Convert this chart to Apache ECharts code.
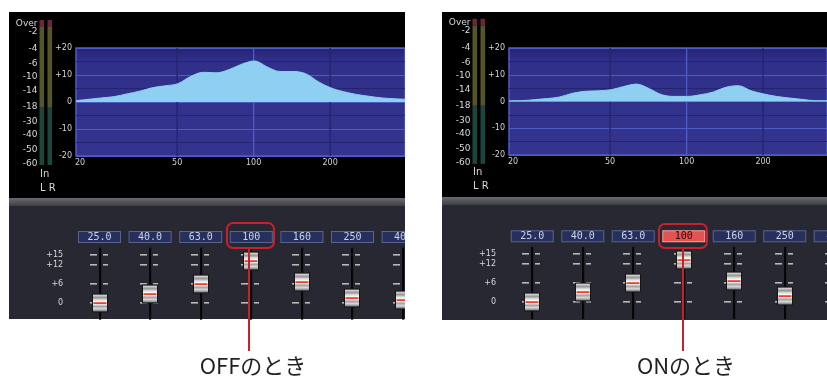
<!DOCTYPE html>
<html><head><meta charset="utf-8">
<script src="https://cdn.jsdelivr.net/npm/echarts@6/dist/echarts.min.js"></script>
<style>html,body{margin:0;padding:0;background:#fff}#c{width:827px;height:376px}</style>
</head><body><div id="c"></div>
<script>
// ---------- DATA ----------
const freqs = [20, 22.4, 25.2, 28.3, 31.7, 35.6, 40, 44.9, 50.4, 56.6, 63.5, 71.3, 80, 89.8, 100.8, 113, 127, 142.5, 160, 179.6, 201.6, 226, 254, 285, 320, 359, 403];
const offLevels = [0.5, 1.0, 1.5, 2.0, 3.0, 4.0, 5.3, 6.0, 6.8, 9.5, 11.0, 10.8, 12.0, 14.0, 15.2, 13.0, 11.3, 11.3, 10.5, 7.5, 5.2, 3.8, 2.8, 2.1, 1.5, 1.2, 1.0];
const onLevels  = [0.3, 0.3, 0.7, 1.1, 1.7, 3.1, 3.8, 4.0, 4.4, 5.6, 6.5, 4.8, 2.5, 1.9, 1.9, 2.5, 3.5, 5.3, 5.9, 4.0, 2.8, 1.9, 1.3, 0.8, 0.3, 0.3, 0.2];
const gridFreqs = [20, 50, 100, 200];
const bandLabels = ['25.0', '40.0', '63.0', '100', '160', '250', '400'];
const offFaders = [0, 2.8, 5.9, 13.1, 6.6, 1.6, 1.0];
const onFaders  = [0, 3.1, 6.1, 13.2, 6.7, 2.1, 1.0];
const faderTicks = [15, 12, 6, 0];
const meterLabels = ['Over', '-2', '-4', '-6', '-10', '-14', '-18', '-30', '-40', '-50', '-60'];
const captions = ['OFFのとき', 'ONのとき'];
const highlightBand = '100';

// ---------- LAYOUT / STYLE ----------
const meterLabelY = [24, 32, 49, 64, 77, 91, 107, 122, 135, 150, 164];
const PANELS = [
  {ox: 0, dy: 0, black: [9, 12, 396, 186], fader: [9, 198, 396, 121],
   spec: {left: 76, top: 48, width: 329, height: 108, max: 394},
   fad: {left: 74.2, top: 255, width: 354.2, height: 67.2},
   hl: [227, 223, 47, 25], line: [249, 248, 351], cap: [253, 366]},
  {ox: 433, dy: -1.2, black: [442, 12, 385, 185], fader: [442, 197, 385, 123],
   spec: {left: 509, top: 48, width: 318, height: 107, max: 357},
   fad: {left: 507, top: 254.3, width: 353.5, height: 67.2},
   hl: [659, 224, 48, 24], line: [683, 248, 351], cap: [686, 366]}
];
const FILL = '#8fd0f2';
const LIGHT = '#4e5cc6';
const DARK = '#22256c';

const chart = echarts.init(document.getElementById('c'), null, {renderer: 'canvas'});

function plotBg() {
  return new echarts.graphic.LinearGradient(0, 0, 0, 1, [
    {offset: 0, color: '#25226f'}, {offset: 0.12, color: '#30308a'},
    {offset: 1, color: '#34348f'}]);
}

function faderRender(slotTop, slotBot) {
  return function (params, api) {
    const idx = api.value(0), val = api.value(1);
    const cx = Math.round(api.coord([idx, 0])[0]);
    const yTop = api.coord([idx, slotTop])[1];
    const yBot = api.coord([idx, slotBot])[1];
    const ky = Math.round(api.coord([idx, val])[1]);
    const ch = [];
    ch.push({type: 'rect', shape: {x: cx - 1, y: yTop, width: 2.2, height: yBot - yTop}, style: {fill: '#060606'}});
    faderTicks.forEach(t => {
      const y = Math.round(api.coord([idx, t])[1]);
      ch.push({type: 'rect', shape: {x: cx - 10, y: y - 1, width: 7, height: 1.6}, style: {fill: '#b8b8b8'}});
      ch.push({type: 'rect', shape: {x: cx + 3, y: y - 1, width: 5, height: 1.6}, style: {fill: '#b8b8b8'}});
    });
    ch.push({type: 'rect', shape: {x: cx - 7.5, y: ky - 9, width: 15, height: 18},
      style: {stroke: '#151515', lineWidth: 1,
        fill: new echarts.graphic.LinearGradient(0, 0, 0, 1, [
          {offset: 0, color: '#505050'}, {offset: 0.08, color: '#d6d6d6'},
          {offset: 0.22, color: '#959595'}, {offset: 0.33, color: '#dcdcdc'},
          {offset: 0.46, color: '#ffffff'}, {offset: 0.56, color: '#eeeeee'},
          {offset: 0.68, color: '#a4a4a4'}, {offset: 0.8, color: '#d8d8d8'},
          {offset: 0.92, color: '#858585'}, {offset: 1, color: '#3c3c3c'}])}});
    ch.push({type: 'rect', shape: {x: cx - 6.5, y: ky - 0.8, width: 13, height: 1.8}, style: {fill: '#e8442c'}});
    return {type: 'group', children: ch};
  };
}

function gridLineRender(params, api) {
  const f = api.value(0);
  const x = api.coord([f, 0])[0];
  const yT = api.coord([f, 20])[1];
  const yB = api.coord([f, -20])[1];
  const ch = [];
  if (f !== gridFreqs[0]) {
    ch.push({type: 'line', shape: {x1: x, y1: yT, x2: x, y2: yB},
      style: {stroke: f === 100 ? LIGHT : DARK, lineWidth: 1.3}});
  }
  ch.push({type: 'text', x: f === gridFreqs[0] ? x - 1 : x, y: yB + 3,
    style: {text: String(f), fill: '#d4d4d4', font: '8px "DejaVu Sans"',
      textAlign: f === gridFreqs[0] ? 'left' : 'center', textVerticalAlign: 'top'}});
  return {type: 'group', children: ch};
}

const grids = [], xAxes = [], yAxes = [], series = [], graphics = [];

PANELS.forEach((p, pi) => {
  const levels = pi === 0 ? offLevels : onLevels;
  const faders = pi === 0 ? offFaders : onFaders;
  grids.push({left: p.spec.left, top: p.spec.top, width: p.spec.width, height: p.spec.height,
    outerBoundsMode: 'none', containLabel: false,
    show: true, backgroundColor: plotBg(), borderColor: LIGHT, borderWidth: 1.5});
  xAxes.push({type: 'log', gridIndex: 2 * pi, min: 20, max: p.spec.max, logBase: 10,
    axisLine: {show: false}, axisTick: {show: false}, axisLabel: {show: false}, splitLine: {show: false}});
  yAxes.push({type: 'value', gridIndex: 2 * pi, min: -20, max: 20, interval: 5,
    axisLine: {show: false}, axisTick: {show: false},
    axisLabel: {color: '#d4d4d4', fontSize: 8, fontFamily: 'DejaVu Sans', margin: 4,
      formatter: v => (v % 10 !== 0 ? '' : (v > 0 ? '+' + v : String(v)))},
    splitLine: {show: true, lineStyle: {color: [LIGHT, DARK], width: 1.2}}});
  grids.push({left: p.fad.left, top: p.fad.top, width: p.fad.width, height: p.fad.height,
    outerBoundsMode: 'none', containLabel: false});
  xAxes.push({type: 'category', gridIndex: 2 * pi + 1, data: bandLabels, position: 'top', boundaryGap: true,
    axisLine: {show: false}, axisTick: {show: false}, splitLine: {show: false},
    axisLabel: {interval: 0, margin: 13, hideOverlap: false,
      formatter: v => (pi === 1 && v === highlightBand) ? '{hi|' + v + '}' : '{n|' + v + '}',
      rich: {
        n: {backgroundColor: '#27305c', borderColor: '#56648f', borderWidth: 1, width: 41, height: 10,
          lineHeight: 10, align: 'center', color: '#c8d4ee', fontFamily: 'DejaVu Sans Mono', fontSize: 10},
        hi: {backgroundColor: '#e45252', borderColor: '#f6a0a0', borderWidth: 1, width: 41, height: 10,
          lineHeight: 10, align: 'center', color: '#2a0606', fontFamily: 'DejaVu Sans Mono', fontSize: 10}
      }}});
  yAxes.push({type: 'value', gridIndex: 2 * pi + 1, min: -6, max: 15,
    axisLine: {show: false}, axisTick: {show: false}, splitLine: {show: false},
    axisLabel: {customValues: faderTicks, margin: 11, color: '#d8d8d8', fontSize: 8, fontFamily: 'DejaVu Sans',
      formatter: v => (v > 0 ? '+' + v : String(v))}});

  series.push({type: 'custom', xAxisIndex: 2 * pi, yAxisIndex: 2 * pi, clip: false, silent: true, z: 1,
    renderItem: gridLineRender, encode: {x: 0}, data: gridFreqs.map(f => [f, 0])});
  series.push({type: 'line', xAxisIndex: 2 * pi, yAxisIndex: 2 * pi, smooth: 0.35, symbol: 'none',
    data: freqs.map((f, i) => [f, levels[i]]), lineStyle: {width: 1, color: FILL},
    areaStyle: {color: FILL, opacity: 1}, z: 3, silent: true});
  series.push({type: 'custom', xAxisIndex: 2 * pi + 1, yAxisIndex: 2 * pi + 1, clip: false, silent: true,
    renderItem: faderRender(17.3, -5.2), encode: {x: 0, y: 1},
    data: bandLabels.map((b, i) => [i, faders[i]]), z: 3});

  graphics.push({type: 'rect', z: -10, shape: {x: p.black[0], y: p.black[1], width: p.black[2], height: p.black[3]}, style: {fill: '#000'}});
  graphics.push({type: 'rect', z: -10, shape: {x: p.fader[0], y: p.fader[1], width: p.fader[2], height: p.fader[3]}, style: {fill: '#282832'}});
  graphics.push({type: 'rect', z: -9, shape: {x: p.fader[0], y: p.fader[1], width: p.fader[2], height: 8},
    style: {fill: new echarts.graphic.LinearGradient(0, 0, 0, 1, [{offset: 0, color: '#6a6a70'}, {offset: 1, color: '#3e3e46'}])}});
  const mx = [39.5 + p.ox, 47.5 + p.ox];
  const my = v => v + p.dy;
  mx.forEach(x => {
    graphics.push({type: 'rect', z: -8, shape: {x, y: my(20), width: 4.6, height: 7}, style: {fill: '#6a2838'}});
    graphics.push({type: 'rect', z: -8, shape: {x, y: my(27), width: 4.6, height: 80}, style: {fill: '#55552a'}});
    graphics.push({type: 'rect', z: -8, shape: {x, y: my(107), width: 4.6, height: 58}, style: {fill: '#1f463c'}});
  });
  meterLabels.forEach((t, i) => {
    graphics.push({type: 'text', z: -7, x: 37.5 + p.ox, y: my(meterLabelY[i]),
      style: {text: t, fill: '#d8d8d8', font: '9px "DejaVu Sans"', textAlign: 'right', textVerticalAlign: 'middle'}});
  });
  graphics.push({type: 'text', z: -7, x: 40 + p.ox, y: my(174), style: {text: 'In', fill: '#d8d8d8', font: '10px "DejaVu Sans"', textAlign: 'left', textVerticalAlign: 'middle'}});
  graphics.push({type: 'text', z: -7, x: 40 + p.ox, y: my(188), style: {text: 'L R', fill: '#d8d8d8', font: '10px "DejaVu Sans"', textAlign: 'left', textVerticalAlign: 'middle'}});
  graphics.push({type: 'rect', z: 120, shape: {x: p.hl[0], y: p.hl[1], width: p.hl[2], height: p.hl[3], r: 6},
    style: {fill: 'none', stroke: '#c8202c', lineWidth: 2}});
  graphics.push({type: 'line', z: 120, shape: {x1: p.line[0], y1: p.line[1], x2: p.line[0], y2: p.line[2]},
    style: {stroke: '#c8202c', lineWidth: 2}});
  graphics.push({type: 'text', z: 120, x: p.cap[0], y: p.cap[1],
    style: {text: captions[pi], fill: '#231f20', font: '22px "Noto Sans CJK JP"', textAlign: 'center', textVerticalAlign: 'middle'}});
});
graphics.push({type: 'rect', z: 110, shape: {x: 405, y: 0, width: 37, height: 330}, style: {fill: '#fff'}});

chart.setOption({
  backgroundColor: '#ffffff',
  animation: false,
  grid: grids, xAxis: xAxes, yAxis: yAxes, series: series,
  graphic: {elements: graphics}
});
</script></body></html>
